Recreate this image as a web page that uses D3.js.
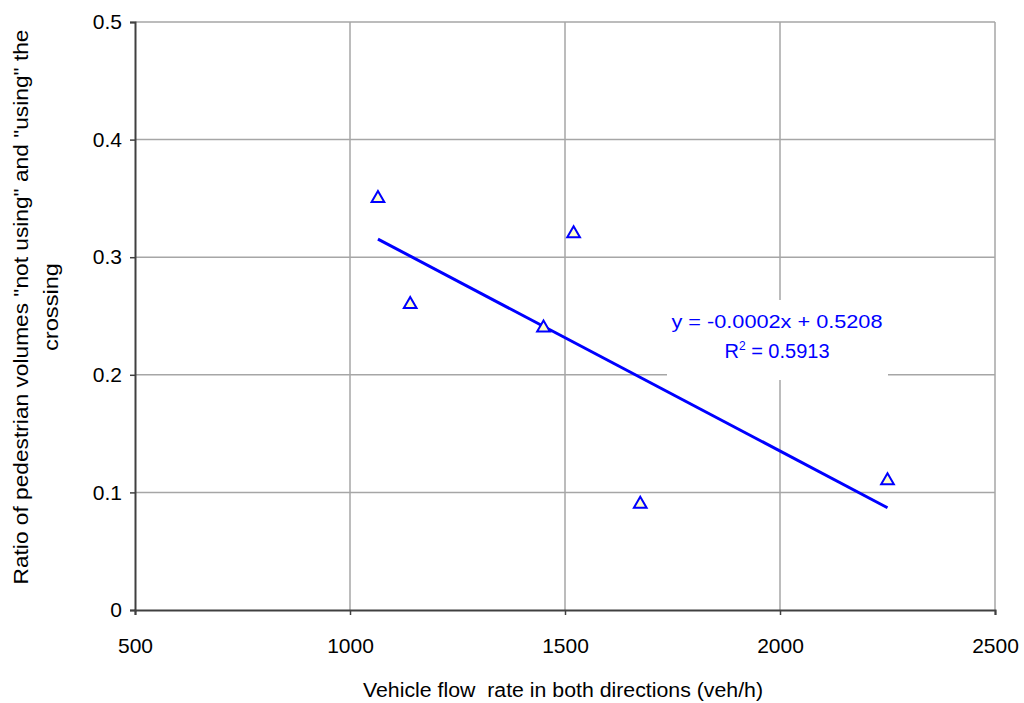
<!DOCTYPE html>
<html>
<head>
<meta charset="utf-8">
<script src="https://cdn.jsdelivr.net/npm/d3@7"></script>
<style>
  body { margin: 0; background: #fff; }
  svg { display: block; font-family: Arial, "Liberation Sans", sans-serif; }
</style>
</head>
<body>
<div id="chart"></div>
<script>
// Observed flow vs ratio
const flow = [1065, 1140, 1450, 1520, 1675, 2250];
const ratio = [0.35, 0.26, 0.24, 0.32, 0.09, 0.11];
const xTicks = [500, 1000, 1500, 2000, 2500];
const yTicks = [0, 0.1, 0.2, 0.3, 0.4, 0.5];
const eqText = 'y = -0.0002x + 0.5208';
const r2Text = ' = 0.5913';

const W = 1024, H = 703;
const m = { top: 22, right: 29, bottom: 93, left: 135 };
const FS = 20;

const svg = d3.select('#chart').append('svg').attr('width', W).attr('height', H);

const x = d3.scaleLinear().domain([500, 2500]).range([m.left, W - m.right]);
const y = d3.scaleLinear().domain([0, 0.5]).range([H - m.bottom, m.top]);

// gridlines
const grid = svg.append('g');
grid.selectAll('.gx').data(xTicks.slice(1)).enter().append('line')
  .attr('x1', d => x(d)).attr('x2', d => x(d))
  .attr('y1', y(0)).attr('y2', y(0.5))
  .attr('stroke', '#a6a6a6').attr('stroke-width', 1.5);
grid.selectAll('.gy').data(yTicks.slice(1)).enter().append('line')
  .attr('x1', x(500)).attr('x2', x(2500))
  .attr('y1', d => y(d)).attr('y2', d => y(d))
  .attr('stroke', '#a6a6a6').attr('stroke-width', 1.5);

// least squares fit
const mx = d3.mean(flow), my = d3.mean(ratio);
let sxy = 0, sxx = 0;
flow.forEach((v, i) => { sxy += (v - mx) * (ratio[i] - my); sxx += (v - mx) ** 2; });
const slope = sxy / sxx, icpt = my - slope * mx;
const [x0, x1] = d3.extent(flow);

// label background box
svg.append('rect')
  .attr('x', 667).attr('y', 300).attr('width', 221).attr('height', 80)
  .attr('fill', '#fff');

svg.append('line')
  .attr('x1', x(x0)).attr('y1', y(icpt + slope * x0))
  .attr('x2', x(x1)).attr('y2', y(icpt + slope * x1))
  .attr('stroke', '#0000ff').attr('stroke-width', 3);

// axes
const xAxis = svg.append('g').attr('transform', `translate(0,${y(0)})`)
  .call(d3.axisBottom(x).tickValues(xTicks).tickSize(5).tickPadding(23).tickFormat(d3.format('d')));
const yAxis = svg.append('g').attr('transform', `translate(${x(500)},0)`)
  .call(d3.axisLeft(y).tickValues(yTicks).tickSize(5).tickPadding(8).tickFormat(d => d === 0 ? '0' : d3.format('.1f')(d)));
[xAxis, yAxis].forEach(a => {
  a.select('.domain').attr('stroke', '#404040').attr('stroke-width', 2);
  a.selectAll('.tick line').attr('stroke', '#404040').attr('stroke-width', 1.5);
  a.selectAll('text').attr('font-size', 21).attr('fill', '#000')
    .attr('font-family', 'Arial, "Liberation Sans", sans-serif');
});

// points
const tri = d3.symbol().type(d3.symbolTriangle).size(70);
svg.selectAll('.pt').data(flow).enter().append('path')
  .attr('d', tri)
  .attr('transform', (d, i) => `translate(${x(d)},${y(ratio[i])})`)
  .attr('fill', '#ffffcc').attr('stroke', '#0000ff').attr('stroke-width', 2);

// equation
svg.append('text').attr('x', 777).attr('y', 328).attr('text-anchor', 'middle')
  .attr('font-size', 19).attr('fill', '#0000ff')
  .attr('textLength', 211).attr('lengthAdjust', 'spacingAndGlyphs').text(eqText);
const r2 = svg.append('text').attr('x', 777).attr('y', 358).attr('text-anchor', 'middle')
  .attr('font-size', 20).attr('fill', '#0000ff');
r2.append('tspan').text('R');
r2.append('tspan').attr('font-size', 12).attr('dy', -8).text('2');
r2.append('tspan').attr('dy', 8).text(r2Text);

// titles
svg.append('text').attr('x', 563).attr('y', 697).attr('text-anchor', 'middle')
  .attr('font-size', FS).attr('textLength', 400).attr('lengthAdjust', 'spacingAndGlyphs')
  .attr('xml:space', 'preserve')
  .text('Vehicle flow  rate in both directions (veh/h)');
const yl = svg.append('text').attr('transform', 'translate(0,307) rotate(-90)')
  .attr('text-anchor', 'middle').attr('font-size', FS);
yl.append('tspan').attr('x', 0).attr('y', 28).attr('textLength', 555).attr('lengthAdjust', 'spacingAndGlyphs')
  .text('Ratio of pedestrian volumes "not using" and "using" the');
yl.append('tspan').attr('x', 0).attr('y', 58).attr('textLength', 88).attr('lengthAdjust', 'spacingAndGlyphs')
  .text('crossing');
</script>
</body>
</html>
